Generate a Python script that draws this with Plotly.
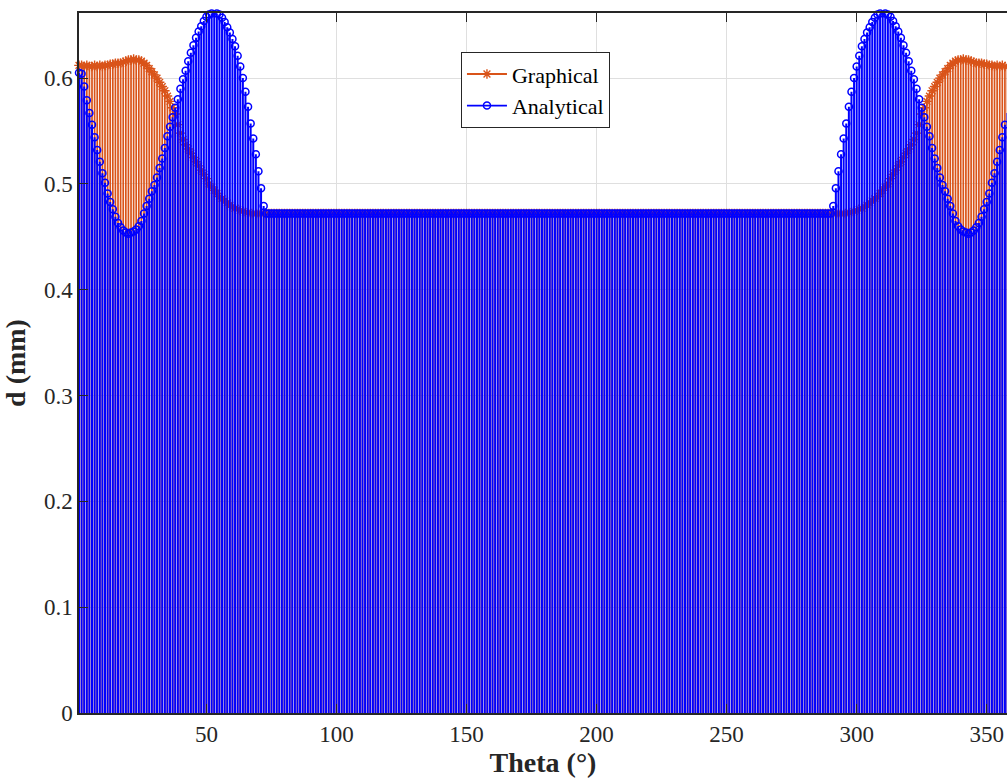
import plotly.graph_objects as go

# ---------------- data ----------------
theta = list(range(1, 361))

graphical = [
    0.612, 0.612, 0.611, 0.612, 0.611, 0.611, 0.612, 0.611, 0.612, 0.611,
    0.612, 0.612, 0.613, 0.613, 0.614, 0.614, 0.614, 0.615, 0.616, 0.617,
    0.617, 0.618, 0.617, 0.617, 0.616, 0.614, 0.612, 0.609, 0.606, 0.603,
    0.600, 0.596, 0.592, 0.588, 0.583, 0.578, 0.572, 0.566, 0.556, 0.548,
    0.542, 0.537, 0.533, 0.529, 0.525, 0.521, 0.517, 0.513, 0.509, 0.505,
    0.500, 0.497, 0.494, 0.491, 0.488, 0.486, 0.484, 0.482, 0.480, 0.478,
    0.477, 0.476, 0.475, 0.474, 0.473, 0.473,
    # 67 - 76
    0.472, 0.472, 0.472, 0.472, 0.472, 0.472, 0.472, 0.472, 0.472, 0.472,
    # 77 - 86
    0.472, 0.472, 0.472, 0.472, 0.472, 0.472, 0.472, 0.472, 0.472, 0.472,
    # 87 - 96
    0.472, 0.472, 0.472, 0.472, 0.472, 0.472, 0.472, 0.472, 0.472, 0.472,
    # 97 - 106
    0.472, 0.472, 0.472, 0.472, 0.472, 0.472, 0.472, 0.472, 0.472, 0.472,
    # 107 - 116
    0.472, 0.472, 0.472, 0.472, 0.472, 0.472, 0.472, 0.472, 0.472, 0.472,
    # 117 - 126
    0.472, 0.472, 0.472, 0.472, 0.472, 0.472, 0.472, 0.472, 0.472, 0.472,
    # 127 - 136
    0.472, 0.472, 0.472, 0.472, 0.472, 0.472, 0.472, 0.472, 0.472, 0.472,
    # 137 - 146
    0.472, 0.472, 0.472, 0.472, 0.472, 0.472, 0.472, 0.472, 0.472, 0.472,
    # 147 - 156
    0.472, 0.472, 0.472, 0.472, 0.472, 0.472, 0.472, 0.472, 0.472, 0.472,
    # 157 - 166
    0.472, 0.472, 0.472, 0.472, 0.472, 0.472, 0.472, 0.472, 0.472, 0.472,
    # 167 - 176
    0.472, 0.472, 0.472, 0.472, 0.472, 0.472, 0.472, 0.472, 0.472, 0.472,
    # 177 - 186
    0.472, 0.472, 0.472, 0.472, 0.472, 0.472, 0.472, 0.472, 0.472, 0.472,
    # 187 - 196
    0.472, 0.472, 0.472, 0.472, 0.472, 0.472, 0.472, 0.472, 0.472, 0.472,
    # 197 - 206
    0.472, 0.472, 0.472, 0.472, 0.472, 0.472, 0.472, 0.472, 0.472, 0.472,
    # 207 - 216
    0.472, 0.472, 0.472, 0.472, 0.472, 0.472, 0.472, 0.472, 0.472, 0.472,
    # 217 - 226
    0.472, 0.472, 0.472, 0.472, 0.472, 0.472, 0.472, 0.472, 0.472, 0.472,
    # 227 - 236
    0.472, 0.472, 0.472, 0.472, 0.472, 0.472, 0.472, 0.472, 0.472, 0.472,
    # 237 - 246
    0.472, 0.472, 0.472, 0.472, 0.472, 0.472, 0.472, 0.472, 0.472, 0.472,
    # 247 - 256
    0.472, 0.472, 0.472, 0.472, 0.472, 0.472, 0.472, 0.472, 0.472, 0.472,
    # 257 - 266
    0.472, 0.472, 0.472, 0.472, 0.472, 0.472, 0.472, 0.472, 0.472, 0.472,
    # 267 - 276
    0.472, 0.472, 0.472, 0.472, 0.472, 0.472, 0.472, 0.472, 0.472, 0.472,
    # 277 - 286
    0.472, 0.472, 0.472, 0.472, 0.472, 0.472, 0.472, 0.472, 0.472, 0.472,
    # 287 - 296
    0.472, 0.472, 0.472, 0.472, 0.472, 0.472, 0.472, 0.472, 0.472, 0.472,
    # 297 - 360
    0.473, 0.473, 0.474, 0.475, 0.476, 0.477, 0.478, 0.480, 0.482, 0.484,
    0.486, 0.488, 0.491, 0.494, 0.497, 0.500, 0.505, 0.509, 0.513, 0.517,
    0.521, 0.525, 0.529, 0.533, 0.537, 0.542, 0.548, 0.556, 0.566, 0.572,
    0.578, 0.583, 0.588, 0.592, 0.596, 0.600, 0.603, 0.606, 0.609, 0.612,
    0.614, 0.616, 0.617, 0.617, 0.618, 0.617, 0.617, 0.616, 0.615, 0.614,
    0.614, 0.614, 0.613, 0.613, 0.612, 0.612, 0.611, 0.612, 0.611, 0.612,
    0.611, 0.611, 0.612, 0.611,
]

analytical = [
    0.605, 0.604, 0.592, 0.579, 0.567, 0.556, 0.544, 0.532, 0.521, 0.510,
    0.501, 0.491, 0.483, 0.476, 0.469, 0.463, 0.459, 0.456, 0.454, 0.453,
    0.454, 0.455, 0.457, 0.460, 0.465, 0.472, 0.479, 0.486, 0.493, 0.499,
    0.506, 0.515, 0.524, 0.534, 0.545, 0.554, 0.563, 0.572, 0.580, 0.590,
    0.599, 0.607, 0.616, 0.624, 0.631, 0.638, 0.644, 0.649, 0.654, 0.658,
    0.660, 0.661, 0.662, 0.661, 0.660, 0.657, 0.653, 0.648, 0.643, 0.637,
    0.630, 0.621, 0.611, 0.600, 0.587, 0.573, 0.557, 0.543, 0.528, 0.512,
    0.496, 0.479,
    0.472, 0.472, 0.472, 0.472, 0.472, 0.472, 0.472, 0.472, 0.472, 0.472,
    0.472, 0.472, 0.472, 0.472, 0.472, 0.472, 0.472, 0.472, 0.472, 0.472,
    0.472, 0.472, 0.472, 0.472, 0.472, 0.472, 0.472, 0.472, 0.472, 0.472,
    0.472, 0.472, 0.472, 0.472, 0.472, 0.472, 0.472, 0.472, 0.472, 0.472,
    0.472, 0.472, 0.472, 0.472, 0.472, 0.472, 0.472, 0.472, 0.472, 0.472,
    0.472, 0.472, 0.472, 0.472, 0.472, 0.472, 0.472, 0.472, 0.472, 0.472,
    0.472, 0.472, 0.472, 0.472, 0.472, 0.472, 0.472, 0.472, 0.472, 0.472,
    0.472, 0.472, 0.472, 0.472, 0.472, 0.472, 0.472, 0.472, 0.472, 0.472,
    0.472, 0.472, 0.472, 0.472, 0.472, 0.472, 0.472, 0.472, 0.472, 0.472,
    0.472, 0.472, 0.472, 0.472, 0.472, 0.472, 0.472, 0.472, 0.472, 0.472,
    0.472, 0.472, 0.472, 0.472, 0.472, 0.472, 0.472, 0.472, 0.472, 0.472,
    0.472, 0.472, 0.472, 0.472, 0.472, 0.472, 0.472, 0.472, 0.472, 0.472,
    0.472, 0.472, 0.472, 0.472, 0.472, 0.472, 0.472, 0.472, 0.472, 0.472,
    0.472, 0.472, 0.472, 0.472, 0.472, 0.472, 0.472, 0.472, 0.472, 0.472,
    0.472, 0.472, 0.472, 0.472, 0.472, 0.472, 0.472, 0.472, 0.472, 0.472,
    0.472, 0.472, 0.472, 0.472, 0.472, 0.472, 0.472, 0.472, 0.472, 0.472,
    0.472, 0.472, 0.472, 0.472, 0.472, 0.472, 0.472, 0.472, 0.472, 0.472,
    0.472, 0.472, 0.472, 0.472, 0.472, 0.472, 0.472, 0.472, 0.472, 0.472,
    0.472, 0.472, 0.472, 0.472, 0.472, 0.472, 0.472, 0.472, 0.472, 0.472,
    0.472, 0.472, 0.472, 0.472, 0.472, 0.472, 0.472, 0.472, 0.472, 0.472,
    0.472, 0.472, 0.472, 0.472, 0.472, 0.472, 0.472, 0.472, 0.472, 0.472,
    0.472, 0.472, 0.472, 0.472, 0.472, 0.472, 0.472, 0.472,
    0.479, 0.496, 0.512, 0.528, 0.543, 0.557, 0.573, 0.587, 0.600, 0.611,
    0.621, 0.630, 0.637, 0.643, 0.648, 0.653, 0.657, 0.660, 0.661, 0.662,
    0.661, 0.660, 0.658, 0.654, 0.649, 0.644, 0.638, 0.631, 0.624, 0.616,
    0.607, 0.599, 0.590, 0.580, 0.572, 0.563, 0.554, 0.545, 0.534, 0.524,
    0.515, 0.506, 0.499, 0.493, 0.486, 0.479, 0.472, 0.465, 0.460, 0.457,
    0.455, 0.454, 0.453, 0.454, 0.456, 0.459, 0.463, 0.469, 0.476, 0.483,
    0.491, 0.501, 0.510, 0.521, 0.532, 0.544, 0.556, 0.567, 0.579, 0.592,
]

assert len(graphical) == len(theta), len(graphical)
assert len(analytical) == len(theta), len(analytical)

x_ticks = [50, 100, 150, 200, 250, 300, 350]
y_ticks = [0, 0.1, 0.2, 0.3, 0.4, 0.5, 0.6]
y_tick_text = ["0", "0.1", "0.2", "0.3", "0.4", "0.5", "0.6"]

ORANGE = "#D95319"
BLUE = "#0000FF"
AX = "#262626"
FONT = "Liberation Serif"


def stems(xv, yv):
    xs, ys = [], []
    for a, b in zip(xv, yv):
        xs += [a, a, None]
        ys += [0, b, None]
    return xs, ys


fig = go.Figure()

gx, gy = stems(theta, graphical)
fig.add_trace(go.Scatter(x=gx, y=gy, mode="lines", line=dict(color=ORANGE, width=1.7),
                         showlegend=False, hoverinfo="skip"))
fig.add_trace(go.Scatter(x=theta, y=graphical, mode="markers", cliponaxis=False,
                         marker=dict(symbol="asterisk-open", size=8, color=ORANGE,
                                     line=dict(color=ORANGE, width=1.4)),
                         showlegend=False))

ax_, ay_ = stems(theta, analytical)
fig.add_trace(go.Scatter(x=ax_, y=ay_, mode="lines", line=dict(color=BLUE, width=2.0),
                         showlegend=False, hoverinfo="skip"))
fig.add_trace(go.Scatter(x=theta, y=analytical, mode="markers", cliponaxis=False,
                         marker=dict(symbol="circle-open", size=7, color=BLUE,
                                     line=dict(color=BLUE, width=1.5)),
                         showlegend=False))

# legend entries
fig.add_trace(go.Scatter(x=[None], y=[None], mode="lines+markers", name="Graphical",
                         line=dict(color=ORANGE, width=1.8),
                         marker=dict(symbol="asterisk-open", size=8, color=ORANGE,
                                     line=dict(color=ORANGE, width=1.4))))
fig.add_trace(go.Scatter(x=[None], y=[None], mode="lines+markers", name="Analytical",
                         line=dict(color=BLUE, width=1.8),
                         marker=dict(symbol="circle-open", size=7, color=BLUE,
                                     line=dict(color=BLUE, width=1.5))))

fig.update_layout(
    width=1007, height=780,
    margin=dict(l=79, r=0, t=13, b=67),
    plot_bgcolor="white", paper_bgcolor="white",
    font=dict(family=FONT, size=23, color=AX),
    legend=dict(x=0.4116, y=0.944, xanchor="left", yanchor="top",
                bgcolor="white", bordercolor=AX, borderwidth=1,
                font=dict(family=FONT, size=22, color="black"),
                itemwidth=40, tracegroupgap=0),
)

fig.update_xaxes(
    range=[1, 357.8], tickvals=x_ticks, ticktext=[str(v) for v in x_ticks],
    tickfont=dict(family=FONT, size=23, color=AX),
    showline=True, linecolor=AX, linewidth=1.5, mirror="ticks",
    ticks="inside", ticklen=9, tickwidth=1.2, tickcolor=AX,
    showgrid=True, gridcolor="#DFDFDF", gridwidth=1, zeroline=False,
    title=dict(text="<b>Theta (°)</b>", font=dict(family=FONT, size=28, color=AX), standoff=4),
)
fig.update_yaxes(
    range=[0, 0.6615], tickvals=y_ticks, ticktext=y_tick_text,
    tickfont=dict(family=FONT, size=23, color=AX),
    showline=True, linecolor=AX, linewidth=1.5, mirror=False,
    ticks="inside", ticklen=9, tickwidth=1.2, tickcolor=AX,
    showgrid=True, gridcolor="#DFDFDF", gridwidth=1, zeroline=False,
    title=dict(text="<b>d (mm)</b>", font=dict(family=FONT, size=28, color=AX), standoff=12),
)

fig.write_html("out.html")
